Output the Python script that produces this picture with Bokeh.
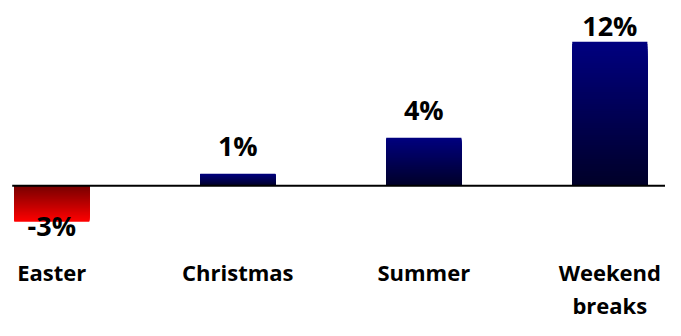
from bokeh.plotting import figure
from bokeh.models import ColumnDataSource, Range1d
from bokeh.core.properties import value
from bokeh.embed import file_html
from bokeh.resources import INLINE

# ---- data ----
categories = ["Easter", "Christmas", "Summer", "Weekend\nbreaks"]
changes = [-3, 1, 4, 12]
labels = ["-3%", "1%", "4%", "12%"]

# ---- layout constants (pixels in the figure) ----
W, H = 665, 320
PX_PER_UNIT_Y = 12.0
ZERO_PX = 185.2
PX_PER_CAT = 186.0
FIRST_CENTER_PX = 51.3
BAR_W = 0.404
TEXT_SHIFT = -10  # compensates baseline placement

y_max = ZERO_PX / PX_PER_UNIT_Y
y_min = -(H - ZERO_PX) / PX_PER_UNIT_Y
x_min = -FIRST_CENTER_PX / PX_PER_CAT
x_max = (W - FIRST_CENTER_PX) / PX_PER_CAT

p = figure(width=W, height=H, output_backend="svg", toolbar_location=None,
           x_range=Range1d(x_min, x_max), y_range=Range1d(y_min, y_max),
           min_border=0, min_border_left=0, min_border_right=0,
           min_border_top=0, min_border_bottom=0)
p.axis.visible = False
p.grid.visible = False
p.outline_line_color = None
p.background_fill_color = "white"
p.border_fill_color = "white"


def lerp(c1, c2, t):
    return "#%02x%02x%02x" % tuple(int(round(a + (b - a) * t)) for a, b in zip(c1, c2))


# gradient bars: nested quads from the axis, longest first, each showing its own top slice
N = 60
left, right, bottom, top, colors = [], [], [], [], []
for i, v in enumerate(changes):
    for k in range(N, 0, -1):
        yk = v * k / N
        t = (k - 0.5) / N  # 0 at axis, 1 at bar end
        if v >= 0:
            c = lerp((0, 0, 40), (0, 0, 128), t)
        else:
            c = lerp((118, 0, 0), (255, 0, 0), t)
        left.append(i - BAR_W / 2)
        right.append(i + BAR_W / 2)
        bottom.append(min(0, yk))
        top.append(max(0, yk))
        colors.append(c)

src = ColumnDataSource(dict(left=left, right=right, bottom=bottom, top=top, color=colors))
p.quad(left="left", right="right", bottom="bottom", top="top", source=src,
       fill_color="color", line_color=None)

# zero line
p.segment(x0=[(11.7 - FIRST_CENTER_PX) / PX_PER_CAT], x1=[x_max], y0=[0], y1=[0],
          line_color="black", line_width=2)

# value labels
label_cap = (ZERO_PX - 35.2) / PX_PER_UNIT_Y
lab_y = []
for v in changes:
    if v >= 0:
        lab_y.append(min(v + 18 / PX_PER_UNIT_Y, label_cap))
    else:
        lab_y.append(v - 14 / PX_PER_UNIT_Y)
lsrc = ColumnDataSource(dict(x=list(range(len(changes))), y=lab_y, t=labels))
p.text(x="x", y="y", text="t", y_offset=TEXT_SHIFT, source=lsrc,
       text_font=value("Open Sans"), text_font_style="bold",
       text_font_size="27px", text_align="center", text_baseline="alphabetic",
       text_color="black")

# category labels
cat_y = -(256 - ZERO_PX) / PX_PER_UNIT_Y
csrc = ColumnDataSource(dict(x=list(range(len(categories))), y=[cat_y] * len(categories), t=categories))
p.text(x="x", y="y", text="t", source=csrc,
       text_font=value("Open Sans"), text_font_style="bold",
       text_font_size="22px", text_align="center", text_baseline="top",
       text_line_height=1.1, text_color="black")

open("out.html", "w").write(file_html(p, INLINE))
